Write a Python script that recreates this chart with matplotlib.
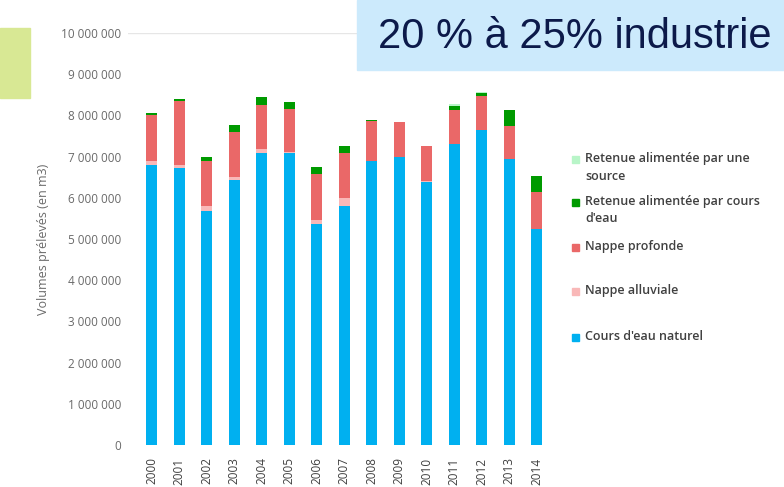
import numpy as np
import matplotlib.pyplot as plt
from matplotlib.patches import Rectangle

# data (m3)
years = [str(y) for y in range(2000, 2015)]
cours_eau = [6800000, 6720000, 5690000, 6420000, 7090000, 7080000, 5360000, 5800000,
             6890000, 6980000, 6390000, 7300000, 7650000, 6940000, 5240000]
nappe_alluv = [90000, 80000, 110000, 90000, 90000, 40000, 100000, 190000,
               10000, 0, 20000, 0, 0, 0, 0]
nappe_prof = [1120000, 1550000, 1100000, 1080000, 1070000, 1030000, 1120000, 1100000,
              970000, 860000, 850000, 830000, 830000, 810000, 910000]
ret_cours = [60000, 40000, 100000, 180000, 190000, 180000, 170000, 170000,
             30000, 0, 0, 100000, 70000, 380000, 390000]
ret_source = [0, 0, 0, 0, 0, 0, 0, 0, 0, 0, 0, 50000, 30000, 0, 0]

series = [cours_eau, nappe_alluv, nappe_prof, ret_cours, ret_source]
labels = ["Cours d'eau naturel", "Nappe alluviale", "Nappe profonde",
          "Retenue alimentée par cours\nd'eau", "Retenue alimentée par une\nsource"]
colors = ['#00b0f0', '#f9b8b8', '#ea6868', '#009a00', '#b8f5c8']

fig = plt.figure(figsize=(7.84, 4.87), dpi=100)
fig.patch.set_facecolor('white')

ax = fig.add_axes([128/784, 42/487, 427/784, 412/487])
x = np.arange(len(years))
bottom = np.zeros(len(years))
for vals, lab, col in zip(series, labels, colors):
    ax.bar(x, vals, width=0.4, bottom=bottom, color=col, label=lab)
    bottom += np.array(vals)

ax.set_xlim(-0.855, 14.67)
ax.set_ylim(0, 10000000)
ax.set_yticks(np.arange(0, 10000001, 1000000))
ax.set_yticklabels([f'{v:,}'.replace(',', ' ') for v in range(0, 10000001, 1000000)],
                   fontsize=8.5, color='#6a6a6a', family='Open Sans')
ax.set_xticks(x)
ax.set_xticklabels(years, rotation=90, fontsize=8.5, color='#404040', family='Open Sans')
ax.tick_params(axis='y', length=0, pad=5)
ax.tick_params(axis='x', length=0, pad=9)
for s in ax.spines.values():
    s.set_visible(False)
ax.axhline(10000000, color='#e6e6e6', lw=1)
ax.set_ylabel('Volumes prélevés (en m3)', fontsize=9, color='#6a6a6a',
              family='Open Sans', labelpad=8)

# legend, drawn by hand (top entry first)
ys = [159, 202, 247, 291, 337]
for yy, lab, col in zip(ys, labels[::-1], colors[::-1]):
    fig.patches.append(Rectangle((572/784, 1 - (yy + 4)/487), 7/784, 7/487,
                                 transform=fig.transFigure, color=col))
    fig.text(585/784, 1 - (yy - 7)/487, lab, fontsize=9, color='#404040',
             family='Open Sans', fontweight='semibold', va='top', linespacing=1.45)

# decoration boxes
fig.patches.append(Rectangle((0, 1 - 98/487), 30/784, 70/487,
                             transform=fig.transFigure, color='#d8e894', zorder=3))
fig.patches.append(Rectangle((357/784, 1 - 70/487), 427/784, 70/487,
                             transform=fig.transFigure, color='#cceafc', zorder=3))
fig.text(378/784, 1 - 37/487, '20 % à 25% industrie', fontsize=30, color='#0c1a4a',
         family='Liberation Sans', va='center', zorder=4)

fig.savefig('out.png', dpi=100)
plt.close(fig)
